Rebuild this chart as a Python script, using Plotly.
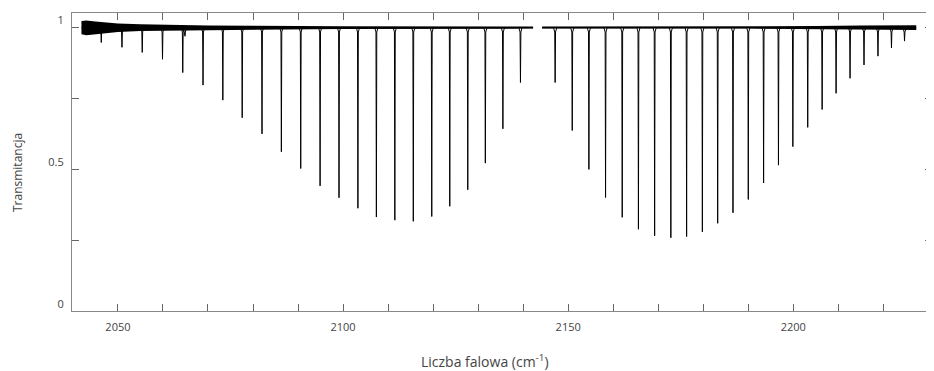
import plotly.graph_objects as go

# ---- data ----
# line centres (cm^-1) and transmittance at the bottom of each line
P_POS = [2139.4, 2135.5, 2131.6, 2127.7, 2123.7, 2119.7, 2115.6, 2111.5, 2107.4,
         2103.3, 2099.1, 2094.9, 2090.6, 2086.3, 2082.0, 2077.6, 2073.3, 2068.9,
         2064.4, 2059.9, 2055.4, 2050.9, 2046.3]
P_MIN = [0.805, 0.642, 0.521, 0.427, 0.369, 0.333, 0.316, 0.320, 0.331,
         0.362, 0.399, 0.441, 0.502, 0.561, 0.624, 0.681, 0.743, 0.796,
         0.840, 0.887, 0.911, 0.929, 0.946]
R_POS = [2147.1, 2150.9, 2154.6, 2158.3, 2162.0, 2165.6, 2169.2, 2172.8, 2176.3,
         2179.8, 2183.2, 2186.6, 2190.0, 2193.4, 2196.7, 2199.9, 2203.2, 2206.4,
         2209.5, 2212.6, 2215.7, 2218.8, 2221.8, 2224.7]
R_MIN = [0.805, 0.636, 0.499, 0.400, 0.330, 0.288, 0.265, 0.258, 0.262,
         0.279, 0.309, 0.346, 0.393, 0.451, 0.514, 0.579, 0.647, 0.710,
         0.767, 0.820, 0.867, 0.898, 0.927, 0.951]
WEAK_POS = [2064.9]
WEAK_MIN = [0.968]

BASELINE = 0.998
SEGMENTS = [(2041.9, 2142.2), (2144.2, 2227.3)]   # recorded ranges (gap between)

# noise envelope of the baseline (upper / lower edges)
NOISE1_X = [2041.9, 2043, 2045, 2048, 2050, 2055, 2060, 2070, 2080, 2090, 2100, 2142.2]
NOISE1_HI = [1.022, 1.024, 1.020, 1.016, 1.013, 1.010, 1.008, 1.006, 1.005, 1.004, 1.003, 1.002]
NOISE1_LO = [0.975, 0.972, 0.976, 0.980, 0.983, 0.987, 0.989, 0.991, 0.992, 0.993, 0.994, 0.995]
NOISE2_X = [2144.2, 2190, 2205, 2215, 2227.3]
NOISE2_HI = [1.002, 1.002, 1.004, 1.006, 1.007]
NOISE2_LO = [0.995, 0.995, 0.993, 0.991, 0.990]

X_LABELS = {2050: "2050", 2100: "2100", 2150: "2150", 2200: "2200"}
Y_LABELS = {0: "0", 0.5: "0.5", 1: "1"}
X_TITLE = "Liczba falowa (cm<sup>-1</sup>)"
Y_TITLE = "Transmitancja"

# ---- build the spectrum polyline ----
lines = sorted(zip(P_POS + R_POS + WEAK_POS, P_MIN + R_MIN + WEAK_MIN))
xs, ys = [], []
for a, b in SEGMENTS:
    xs.append(a); ys.append(BASELINE)
    for c, m in lines:
        if a < c < b:
            xs += [c - 0.35, c - 0.09, c, c + 0.09, c + 0.35]
            ys += [BASELINE, BASELINE - 0.015, m, BASELINE - 0.015, BASELINE]
    xs.append(b); ys.append(BASELINE)
    xs.append(None); ys.append(None)

fig = go.Figure()
for nx, hi, lo in [(NOISE1_X, NOISE1_HI, NOISE1_LO), (NOISE2_X, NOISE2_HI, NOISE2_LO)]:
    fig.add_trace(go.Scatter(x=nx + nx[::-1], y=hi + lo[::-1], fill="toself",
                             fillcolor="black", line=dict(width=0), mode="lines",
                             hoverinfo="skip", showlegend=False))
fig.add_trace(go.Scatter(x=xs, y=ys, mode="lines", line=dict(color="black", width=1),
                         showlegend=False, connectgaps=False))

FONT = "Open Sans"
TXT = "#444"
xt = list(range(2040, 2231, 10))
yt = [0, 0.25, 0.5, 0.75, 1]
axis_common = dict(showline=True, linecolor="#888", linewidth=1, mirror="ticks",
                   ticks="inside", ticklen=7, tickcolor="#666", showgrid=False,
                   zeroline=False, automargin=False,
                   tickfont=dict(family=FONT, size=11, color=TXT))
fig.update_xaxes(range=[2039.8, 2230.8], tickvals=xt,
                 ticktext=[X_LABELS.get(v, "") for v in xt],
                 ticklabelstandoff=6, **axis_common)
fig.update_yaxes(range=[0, 1.05], tickvals=yt,
                 ticktext=[Y_LABELS.get(v, "") for v in yt],
                 ticklabelshift=-7, ticklabelstandoff=5, **axis_common)

# axis titles placed relative to the plot area
fig.add_annotation(text=X_TITLE, xref="paper", yref="paper", x=0.48, y=0,
                   xanchor="center", yanchor="middle", yshift=-50, showarrow=False,
                   font=dict(family=FONT, size=14, color=TXT))
fig.add_annotation(text=Y_TITLE, xref="paper", yref="paper", x=0, y=0.463,
                   xanchor="center", yanchor="middle", xshift=-55, textangle=-90,
                   showarrow=False, font=dict(family=FONT, size=12, color=TXT))

# the page body has an 8 px margin; size the figure so the plot area lands
# at x 72..932, y 13..311 of the window
fig.update_layout(width=926, height=363, margin=dict(l=64, r=2, t=5, b=60),
                  plot_bgcolor="white", paper_bgcolor="white")
fig.write_html("out.html")
